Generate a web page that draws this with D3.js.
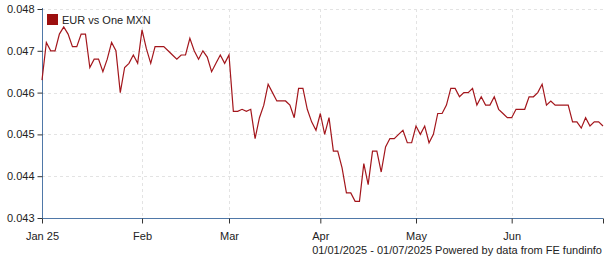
<!DOCTYPE html>
<html>
<head>
<meta charset="utf-8">
<script src="https://cdn.jsdelivr.net/npm/d3@7"></script>
<style>
  body { margin: 0; background: #fff; }
  svg text { font-family: Arial, "Liberation Sans", sans-serif; fill: #222; }
</style>
</head>
<body>
<div id="svg_chart"></div>
<script>
var seriesName = "EUR vs One MXN";
var startDate = "2025-01-01", endDate = "2025-07-01";
var footerText = "01/01/2025 - 01/07/2025 Powered by data from FE fundinfo";

// one value per weekday, 1 Jan 2025 .. 1 Jul 2025
var rates = [
  0.0463, 0.0472, 0.0470, 0.0470, 0.0474, 0.04757, 0.0474, 0.0471, 0.0471, 0.0474,
  0.0474, 0.0466, 0.0468, 0.0468, 0.0465, 0.0468, 0.0472, 0.0470, 0.0460, 0.0466,
  0.0467, 0.0469, 0.0467, 0.0475, 0.04705, 0.0467, 0.0471, 0.0471, 0.0471, 0.0470,
  0.0469, 0.0468, 0.0469, 0.0469, 0.0473, 0.0470, 0.0468, 0.0470, 0.04685, 0.0465,
  0.0467, 0.0469, 0.0467, 0.0469, 0.04555, 0.04555, 0.0456, 0.04555, 0.0456, 0.0449,
  0.0454, 0.0457, 0.0462, 0.0460, 0.0458, 0.0458, 0.0458, 0.0457, 0.0454, 0.0461,
  0.0461, 0.0456, 0.0453, 0.0451, 0.0455, 0.0450, 0.0454, 0.0446, 0.0446, 0.0442,
  0.0436, 0.0436, 0.0434, 0.0434, 0.0443, 0.0438, 0.0446, 0.0446, 0.0441, 0.0447,
  0.0449, 0.0449, 0.0450, 0.0451, 0.0448, 0.0448, 0.0452, 0.0450, 0.0452, 0.0448,
  0.0450, 0.0455, 0.0455, 0.0457, 0.0461, 0.0461, 0.0459, 0.0460, 0.0460, 0.0461,
  0.0457, 0.0459, 0.0457, 0.0457, 0.0459, 0.0456, 0.0455, 0.0454, 0.0454, 0.0456,
  0.0456, 0.0456, 0.0459, 0.0459, 0.0460, 0.0462, 0.0457, 0.0458, 0.0457, 0.0457,
  0.0457, 0.0457, 0.0453, 0.0453, 0.04515, 0.0454, 0.0452, 0.0453, 0.0453, 0.0452
];

var yTicks = [0.043, 0.044, 0.045, 0.046, 0.047, 0.048];
var monthLabels = ["Jan 25", "Feb", "Mar", "Apr", "May", "Jun"];

var W = 605, H = 260;
var plotLeft = 42, plotRight = 603, plotTop = 9, plotBottom = 218;
var axisColor = "#4f78a8", lineColor = "#a3161c";

// weekday dates the rates belong to
var days = d3.timeDays(new Date(startDate + "T00:00"), d3.timeDay.offset(new Date(endDate + "T00:00"), 1))
  .filter(function (d) { return d.getDay() != 0 && d.getDay() != 6; });
var data = rates.map(function (v, i) { return { date: days[i], value: v, i: i }; });

// first trading day of each month -> tick index
var monthTicks = [];
data.forEach(function (d, i) {
  if (i == 0 || d.date.getMonth() != data[i - 1].date.getMonth()) monthTicks.push(i);
});
var labelTicks = monthTicks.slice(0, monthLabels.length);

var x = d3.scaleLinear().domain([0, data.length - 1]).range([plotLeft, plotRight]);
var y = d3.scaleLinear().domain([d3.min(yTicks), d3.max(yTicks)]).range([plotBottom, plotTop]);

var svg = d3.select("#svg_chart").append("svg")
  .attr("width", W).attr("height", H);

// grid
svg.append("g").selectAll("line").data(yTicks.slice(1)).join("line")
  .attr("x1", plotLeft).attr("x2", plotRight)
  .attr("y1", function (d) { return Math.round(y(d)) + 0.5; })
  .attr("y2", function (d) { return Math.round(y(d)) + 0.5; })
  .attr("stroke", "#e3e3e3").attr("stroke-dasharray", "3,3");
svg.append("g").selectAll("line").data(labelTicks.slice(1)).join("line")
  .attr("x1", function (d) { return Math.round(x(d)) + 0.5; })
  .attr("x2", function (d) { return Math.round(x(d)) + 0.5; })
  .attr("y1", plotTop).attr("y2", plotBottom)
  .attr("stroke", "#e3e3e3").attr("stroke-dasharray", "3,3");

// y axis
var gy = svg.append("g")
  .attr("transform", "translate(" + (plotLeft + 0.5) + ",0)")
  .call(d3.axisLeft(y).tickValues(yTicks).tickFormat(d3.format(".3f")).tickSize(5).tickPadding(3));
gy.select(".domain").attr("stroke", axisColor).attr("d", "M0," + (plotTop - 1) + "V" + plotBottom);
gy.selectAll(".tick line").attr("stroke", "#333");
gy.selectAll("text").attr("font-size", 11).style("font-family", "Arial, 'Liberation Sans', sans-serif").attr("fill", "#222");

// x axis
var gx = svg.append("g")
  .attr("transform", "translate(0," + (plotBottom + 0.5) + ")")
  .call(d3.axisBottom(x).tickValues(monthTicks).tickSize(5).tickPadding(9)
    .tickFormat(function (d, i) { return monthLabels[i] || ""; }));
gx.select(".domain").attr("stroke", axisColor).attr("d", "M" + plotLeft + ",0H" + plotRight);
gx.selectAll(".tick line").attr("stroke", "#333");
gx.selectAll("text").attr("font-size", 11).style("font-family", "Arial, 'Liberation Sans', sans-serif").attr("fill", "#222");

// series
svg.append("path").datum(data)
  .attr("fill", "none")
  .attr("stroke", lineColor)
  .attr("stroke-width", 1.2)
  .attr("d", d3.line().x(function (d) { return x(d.i); }).y(function (d) { return y(d.value); }));

// legend
svg.append("rect").attr("x", 47).attr("y", 14).attr("width", 11).attr("height", 11).attr("fill", "#9c0f0f");
svg.append("text").attr("x", 62).attr("y", 23.5).attr("font-size", 11).text(seriesName);

// footer
svg.append("text").attr("x", 602).attr("y", 254).attr("text-anchor", "end").attr("font-size", 11).text(footerText);
</script>
</body>
</html>
